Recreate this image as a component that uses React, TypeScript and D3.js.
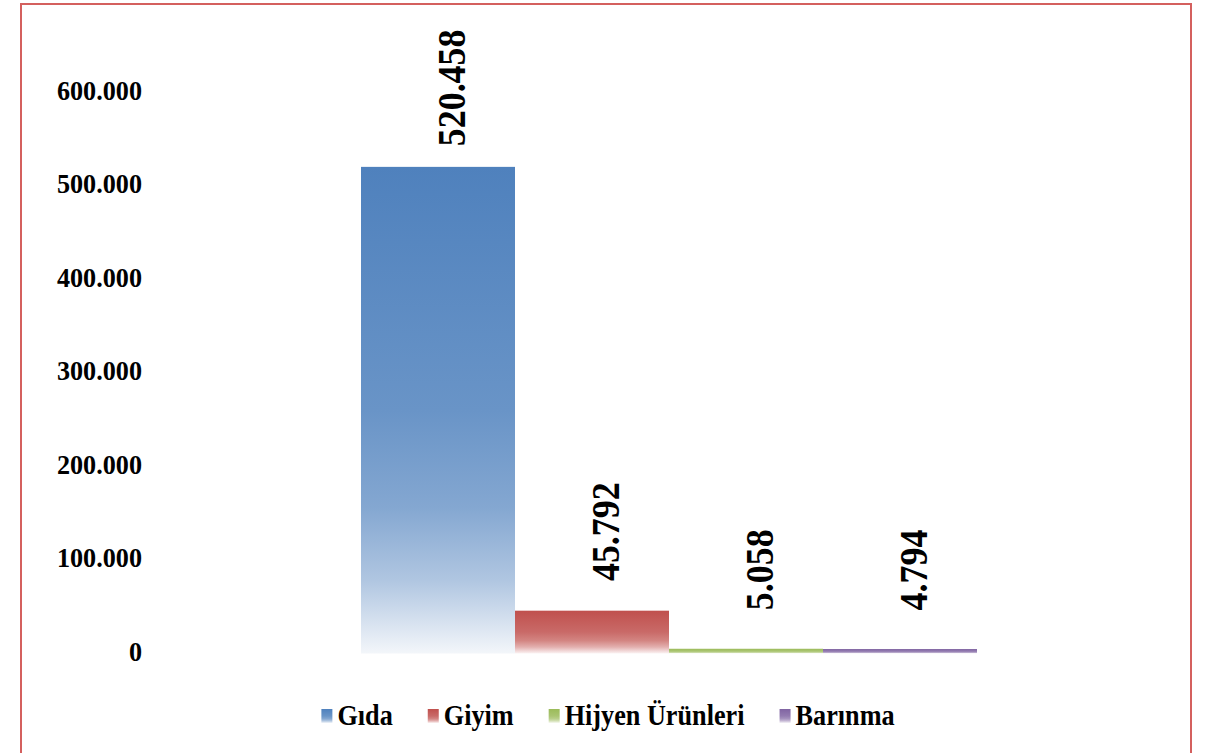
import React, { useEffect, useRef } from "react";
import * as d3 from "d3";

const seriesNames = ["Gıda", "Giyim", "Hijyen Ürünleri", "Barınma"];
const seriesValues = [520458, 45792, 5058, 4794];
const seriesColors = ["#4F81BD", "#C0504D", "#9BBB59", "#8064A2"];
const tickValues = [0, 100000, 200000, 300000, 400000, 500000, 600000];

const W = 1222;
const H = 753;

const trLocale = d3.formatLocale({ decimal: ",", thousands: ".", grouping: [3], currency: ["", ""] });
const fmt = trLocale.format(",d");

const FONT = "'Liberation Serif', 'Times New Roman', serif";

export default function App() {
  const ref = useRef<SVGSVGElement | null>(null);

  useEffect(() => {
    const svg = d3.select(ref.current);
    svg.selectAll("*").remove();

    const y = d3.scaleLinear().domain([0, 600000]).range([653.5, 92.5]);
    const x = d3.scaleBand<string>().domain(seriesNames).range([361, 977]).padding(0);

    const defs = svg.append("defs");
    const gStops = [
      [0, 0],
      [0.5, 0.15],
      [0.7, 0.3],
      [0.85, 0.55],
      [1, 0.93],
    ];
    seriesColors.forEach((c, i) => {
      const lg = defs
        .append("linearGradient")
        .attr("id", `grad${i}`)
        .attr("x1", 0)
        .attr("y1", 0)
        .attr("x2", 0)
        .attr("y2", 1);
      gStops.forEach(([t, m]) => {
        lg.append("stop")
          .attr("offset", t)
          .attr("stop-color", d3.interpolateRgb(c, "#ffffff")(m));
      });
    });

    // border
    svg
      .append("rect")
      .attr("x", 21)
      .attr("y", 4)
      .attr("width", 1170)
      .attr("height", 800)
      .attr("fill", "none")
      .attr("stroke", "#D4605E")
      .attr("stroke-width", 2);

    // y tick labels
    const tickF = 28;
    const tickS = 0.935;
    svg
      .append("g")
      .selectAll("text")
      .data(tickValues)
      .join("text")
      .attr("transform", (d) => `translate(142, ${y(d) - 2 + 0.338 * tickF}) scale(${tickS}, 1)`)
      .attr("text-anchor", "end")
      .attr("font-family", FONT)
      .attr("font-weight", "bold")
      .attr("font-size", tickF)
      .attr("fill", "#000")
      .text((d) => fmt(d));

    // bars
    const data = seriesNames.map((n, i) => ({ name: n, value: seriesValues[i], i }));
    svg
      .append("g")
      .selectAll("rect")
      .data(data)
      .join("rect")
      .attr("x", (d) => x(d.name)!)
      .attr("width", x.bandwidth())
      .attr("y", (d) => y(d.value))
      .attr("height", (d) => y(0) - y(d.value))
      .attr("fill", (d) => `url(#grad${d.i})`);

    // data labels
    const lblF = 39;
    const lblS = 0.92;
    svg
      .append("g")
      .selectAll("text")
      .data(data)
      .join("text")
      .attr(
        "transform",
        (d) => `translate(${x(d.name)! + x.bandwidth() / 2 + 14}, ${y(d.value) - 79}) rotate(-90) scale(${lblS}, 1)`
      )
      .attr("x", 0)
      .attr("y", 0.338 * lblF)
      .attr("text-anchor", "middle")
      .attr("font-family", FONT)
      .attr("font-weight", "bold")
      .attr("font-size", lblF)
      .attr("fill", "#000")
      .text((d) => fmt(d.value));

    // legend
    const legF = 28.5;
    const legS = 0.92;
    const sqW = 11;
    const sqH = 14;
    const sqGap = 5;
    const itemGap = 35;
    const legY = 716;
    const legend = svg.append("g");
    const items = legend
      .selectAll("g")
      .data(data)
      .join("g");
    items
      .append("rect")
      .attr("width", sqW)
      .attr("height", sqH)
      .attr("y", legY - sqH / 2)
      .attr("fill", (d) => `url(#grad${d.i})`);
    const texts = items
      .append("text")
      .attr("font-family", FONT)
      .attr("font-weight", "bold")
      .attr("font-size", legF)
      .attr("fill", "#000")
      .text((d) => d.name);
    const widths: number[] = [];
    texts.each(function () {
      widths.push((this as SVGTextElement).getComputedTextLength() * legS);
    });
    const total =
      widths.reduce((a, b) => a + b, 0) + data.length * (sqW + sqGap) + (data.length - 1) * itemGap;
    let cx = 608 - total / 2;
    items.each(function (d, i) {
      const g = d3.select(this);
      g.attr("transform", `translate(${cx}, 0)`);
      g.select("text").attr(
        "transform",
        `translate(${sqW + sqGap}, ${legY + 0.33 * legF}) scale(${legS}, 1)`
      );
      cx += sqW + sqGap + widths[i] + itemGap;
    });
  }, []);

  return (
    <svg
      ref={ref}
      width={W}
      height={H}
      style={{ position: "absolute", left: 0, top: 0, background: "#fff" }}
    />
  );
}
